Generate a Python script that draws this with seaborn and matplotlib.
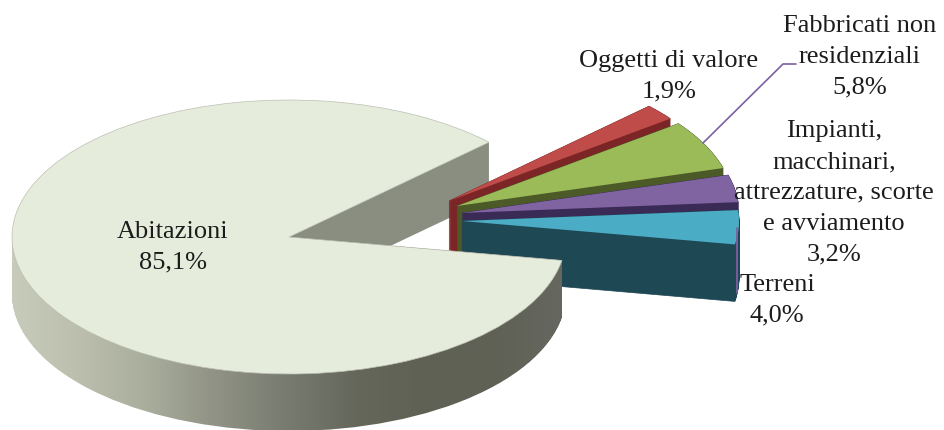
import matplotlib
matplotlib.use("Agg")
import numpy as np
import matplotlib.pyplot as plt
import seaborn as sns
from matplotlib.colors import LinearSegmentedColormap
from matplotlib.patches import Wedge, PathPatch, Polygon
from matplotlib.path import Path
from matplotlib.transforms import Affine2D, IdentityTransform

# ---- data -------------------------------------------------------------
categories = ["Abitazioni", "Terreni",
              "Impianti,\nmacchinari,\nattrezzature, scorte\ne avviamento",
              "Fabbricati non\nresidenziali", "Oggetti di valore"]
shares = [85.1, 4.0, 3.2, 5.8, 1.9]
share_labels = ["85,1%", "4,0%", "3,2%", "5,8%", "1,9%"]

# ---- style / layout ----------------------------------------------------
W, H = 944, 430
top_colors = ["#e6ecdb", "#4bacc6", "#8064a2", "#9bbb59", "#bf4c49"]
side_colors = [None, "#1f4855", "#3a2a56", "#4c5a28", "#7c2526"]
wall_color = "#8a8e81"
front_ramp = ["#c8ccba", "#bcbfae", "#a9ad9c", "#8f9284", "#787c70", "#65675b", "#5f6155", "#5f6155", "#666860"]
apex_px = [(289, 237), (462, 221), (462, 213), (457, 206), (449, 201)]
draw_order = [4, 3, 2, 1]          # back to front
main_apex = apex_px[0]
RX, RY = 277.0, 137.0
DEPTH = 57
START = 43.8
leader_color = "#7b60a3"
label_pos = [(173, 247), (777, 300), (834, 193), (860, 57), (669, 76)]
FONT = 19
SPACING = 1.52

sns.set_theme(style="white")
plt.rcParams["font.family"] = ["Liberation Serif", "DejaVu Serif"]

fig = plt.figure(figsize=(W / 100, H / 100), dpi=100, facecolor="white")
ax = fig.add_axes([0, 0, 1, 1])


def px2d(x, y):
    return (x - main_apex[0]) / RX, (main_apex[1] - y) / RY


# one pie call per exploded slice: each slice has its own centre
wedges = []
for i, apex in enumerate(apex_px):
    ws, _ = ax.pie(shares, colors=top_colors, startangle=START, counterclock=True,
                   center=px2d(*apex), radius=1.0, normalize=True, frame=False)
    for j, w in enumerate(ws):
        if j != i:
            w.remove()
    wedges.append(ws[i])

ax.set_aspect("auto")
ax.set_xlim(px2d(0, 0)[0], px2d(W, 0)[0])
ax.set_ylim(px2d(0, H)[1], px2d(0, 0)[1])
ax.axis("off")


def sweep(patch, depth=DEPTH):
    """Display-space outline of a patch pulled straight down by depth pixels."""
    base = patch.get_patch_transform() + ax.transData
    p = base.transform_path(patch.get_path())
    copies = [p.transformed(Affine2D().translate(0, -k)) for k in range(depth + 1)]
    return Path.make_compound_path(*copies)


# wall of the cut in the big slice (lies behind the exploded slices)
main = wedges[0]
a1 = np.deg2rad(main.theta1)
tip = (np.cos(a1), np.sin(a1))
to_px = ax.transData.transform
wall_pts = np.array([to_px((0, 0)), to_px(tip), to_px(tip) - (0, DEPTH), to_px((0, 0)) - (0, DEPTH)])
ax.add_patch(Polygon(wall_pts, closed=True, transform=IdentityTransform(), fc=wall_color, ec="none", zorder=1))

# exploded slices, back to front
z = 2
for i in draw_order:
    ax.add_patch(PathPatch(sweep(wedges[i]), transform=IdentityTransform(),
                           fc=side_colors[i], ec=side_colors[i], linewidth=0.5, zorder=z))
    wedges[i].set(zorder=z + 0.5, edgecolor="none", linewidth=0)
    z += 1

# front rim of the big slice with a horizontal gradient
front = Wedge((0, 0), 1.0, 180, main.theta2)
front.set_transform(IdentityTransform())
ramp = LinearSegmentedColormap.from_list("rim", front_ramp)
x0, x1 = px2d(8, 0)[0], px2d(564, 0)[0]
im = ax.imshow(np.linspace(0, 1, 512)[None, :], cmap=ramp, aspect="auto",
               extent=(x0, x1, px2d(0, H)[1], px2d(0, 0)[1]), zorder=10, interpolation="bilinear")
im.set_clip_path(sweep(front), IdentityTransform())
ax.set_xlim(px2d(0, 0)[0], px2d(W, 0)[0])
ax.set_ylim(px2d(0, H)[1], px2d(0, 0)[1])
ax.set_aspect("auto")

main.set(zorder=11, edgecolor="#bcbfb2", linewidth=0.5)

# leader lines (figure pixels)
fig.add_artist(plt.Line2D([703 / W, 783 / W, 796 / W], [1 - 143 / H, 1 - 64 / H, 1 - 64 / H],
                          color=leader_color, lw=1.2, transform=fig.transFigure))
fig.add_artist(plt.Line2D([736.5 / W, 736.5 / W], [1 - 228 / H, 1 - 293 / H],
                          color=leader_color, lw=1.3, transform=fig.transFigure))

# labels
for name, val, (lx, ly) in zip(categories, share_labels, label_pos):
    fig.text(lx / W, 1 - ly / H, f"{name}\n{val}", ha="center", va="center", multialignment="center",
             fontsize=FONT, color="#1c1c1c", linespacing=SPACING)

fig.savefig("out.png", dpi=100, facecolor="white")
